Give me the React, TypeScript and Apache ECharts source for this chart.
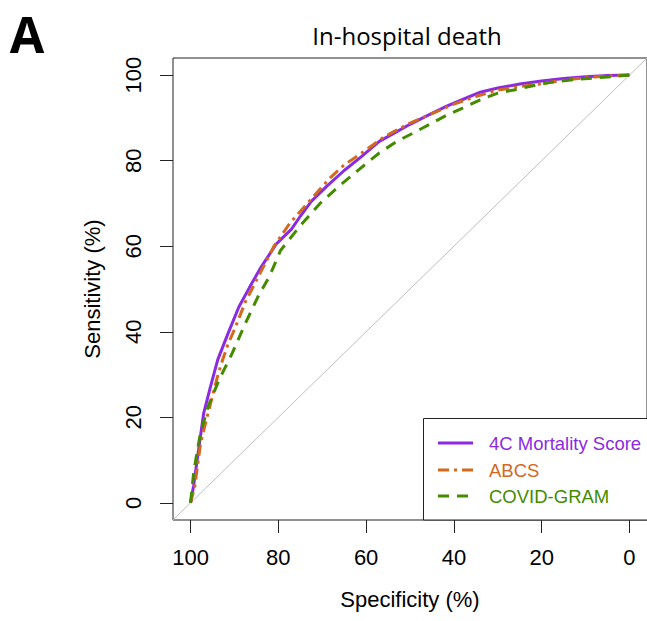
import React, { useEffect, useRef } from "react";
import * as echarts from "echarts";

// Specificity (%) / Sensitivity (%) pairs
const spec4C = [100, 99.3, 98.5, 97, 95.5, 93.8, 91.5, 89, 86.5, 84, 80.5, 77, 75, 72.5, 69, 65, 61, 57, 53.5, 50, 45.5, 41.5, 38, 34, 30, 25, 20, 15, 10, 5, 0];
const sens4C = [0, 4, 10, 21, 27, 33.5, 39.5, 45.8, 50.5, 55, 60.5, 64, 67, 70.5, 74, 77.7, 81, 84.5, 86.5, 88.5, 90.8, 92.8, 94.3, 96, 97, 97.9, 98.6, 99.2, 99.6, 99.9, 100];

const specABCS = [100, 99, 98.5, 97.7, 96.5, 95.5, 94, 93, 91.5, 89.8, 87.5, 85.5, 83.6, 81, 77.3, 72.7, 68.2, 65, 60, 56, 50, 45, 40, 35, 30, 25, 20, 15, 10, 5, 0];
const sensABCS = [0, 4, 8, 14, 19, 23, 29, 32.5, 37, 41, 47, 51, 54.8, 60, 65.5, 70.8, 76, 79, 82.5, 85.5, 88.8, 91, 93.2, 95, 96.5, 97.3, 98, 98.8, 99.4, 99.8, 100];

const specGRAM = [100, 99.3, 98.5, 97.7, 95.9, 93.4, 90.5, 87.5, 84.5, 82, 79.5, 75, 70.5, 66, 62, 57, 53, 49, 45, 41.5, 38, 34, 30, 26, 22, 18, 12, 7, 0];
const sensGRAM = [0, 7, 12, 16.5, 22.8, 29, 35, 42, 48.5, 53, 59, 64.8, 70, 74.2, 77.6, 81.8, 84.5, 86.6, 88.8, 90.7, 92.3, 94.2, 95.8, 96.6, 97.5, 98.3, 99, 99.4, 100];

const diagSpec = [104, -4];
const diagSens = [-4, 104];

const tickValues = [0, 20, 40, 60, 80, 100];
const seriesNames = ["4C Mortality Score", "ABCS", "COVID-GRAM"];
const colors = ["#8A2BE2", "#D2691E", "#458B00"];

const zip = (a: number[], b: number[]) => a.map((v, i) => [v, b[i]]);

export default function App() {
  const ref = useRef<HTMLDivElement>(null);
  useEffect(() => {
    if (!ref.current) return;
    const chart = echarts.init(ref.current, null, { renderer: "svg" });
    const axisFont = "Liberation Sans, Arial, sans-serif";
    const legendRows = [443, 470, 496];
    const dashes: any[] = [null, [11, 5, 3, 5], [11, 8]];
    chart.setOption({
      animation: false,
      backgroundColor: "#ffffff",
      grid: {
        left: 173,
        top: 58,
        width: 475,
        height: 462,
        show: true,
        borderColor: "#222",
        borderWidth: 1,
        backgroundColor: "transparent",
      },
      xAxis: {
        type: "value",
        min: -4,
        max: 104,
        inverse: true,
        name: "Specificity (%)",
        nameLocation: "middle",
        nameGap: 68,
        nameTextStyle: { fontFamily: axisFont, fontSize: 22, color: "#000" },
        axisLine: { show: false, onZero: false },
        splitLine: { show: false },
        axisTick: {
          show: true,
          inside: false,
          length: 13,
          customValues: tickValues,
          lineStyle: { color: "#222", width: 1 },
        },
        axisLabel: {
          customValues: tickValues,
          margin: 26,
          fontFamily: axisFont,
          fontSize: 22,
          color: "#000",
        },
      },
      yAxis: {
        type: "value",
        min: -4,
        max: 104,
        name: "Sensitivity (%)",
        nameLocation: "middle",
        nameGap: 70,
        nameTextStyle: { fontFamily: axisFont, fontSize: 22, color: "#000" },
        axisLine: { show: false, onZero: false },
        splitLine: { show: false },
        axisTick: {
          show: true,
          inside: false,
          length: 13,
          customValues: tickValues,
          lineStyle: { color: "#222", width: 1 },
        },
        axisLabel: {
          customValues: tickValues,
          rotate: 90,
          margin: 29,
          fontFamily: axisFont,
          fontSize: 22,
          color: "#000",
        },
      },
      series: [
        {
          type: "line",
          data: zip(diagSpec, diagSens),
          showSymbol: false,
          silent: true,
          lineStyle: { color: "#BEBEBE", width: 1 },
          clip: true,
        },
        {
          name: seriesNames[0],
          type: "line",
          data: zip(spec4C, sens4C),
          showSymbol: false,
          lineStyle: { color: colors[0], width: 3 },
        },
        {
          name: seriesNames[1],
          type: "line",
          data: zip(specABCS, sensABCS),
          showSymbol: false,
          lineStyle: { color: colors[1], width: 3, type: dashes[1] },
        },
        {
          name: seriesNames[2],
          type: "line",
          data: zip(specGRAM, sensGRAM),
          showSymbol: false,
          lineStyle: { color: colors[2], width: 3, type: dashes[2] },
        },
      ],
      graphic: [
        {
          type: "text",
          x: 27,
          y: 34,
          style: {
            text: "A",
            font: "bold 50px 'Open Sans', sans-serif",
            fill: "#000",
            align: "center",
            verticalAlign: "middle",
            textAlign: "center",
            textVerticalAlign: "middle",
          },
        },
        {
          type: "text",
          x: 407,
          y: 35,
          style: {
            text: "In-hospital death",
            font: "24px 'Open Sans', sans-serif",
            fill: "#000",
            align: "center",
            verticalAlign: "middle",
            textAlign: "center",
            textVerticalAlign: "middle",
          },
        },
        {
          type: "rect",
          shape: { x: 423.5, y: 418.5, width: 240, height: 101.5 },
          style: { fill: "#fff", stroke: "#222", lineWidth: 1 },
          z: 10,
        },
        ...seriesNames.map((n, i) => ({
          type: "line",
          shape: { x1: 438, y1: legendRows[i], x2: 473, y2: legendRows[i] },
          style: {
            stroke: colors[i],
            lineWidth: 3,
            lineDash: dashes[i] || undefined,
          },
          z: 11,
        })),
        ...seriesNames.map((n, i) => ({
          type: "text",
          x: 489,
          y: legendRows[i],
          style: {
            text: n,
            font: "18.5px 'Liberation Sans', Arial, sans-serif",
            fill: colors[i],
            align: "left",
            verticalAlign: "middle",
            textAlign: "left",
            textVerticalAlign: "middle",
          },
          z: 11,
        })),
      ],
    });
    return () => chart.dispose();
  }, []);
  return (
    <div
      ref={ref}
      style={{ position: "fixed", left: 0, top: 0, width: 647, height: 621 }}
    />
  );
}
